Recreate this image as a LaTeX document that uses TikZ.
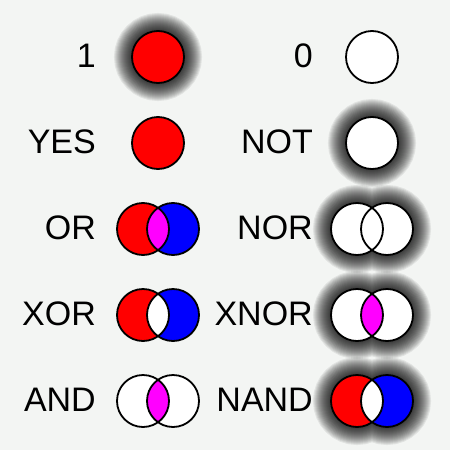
\documentclass[tikz,border=0pt]{standalone}
\usepackage{fontspec}
\setmainfont{Liberation Sans}

\definecolor{paper}{RGB}{243,245,243}
\definecolor{lred}{RGB}{255,0,0}
\definecolor{lblue}{RGB}{0,0,255}
\definecolor{lmag}{RGB}{255,0,255}

% soft dark halo round a path
\newcommand\halo[1]{%
  \foreach \k in {1,...,18}{\draw[black, opacity=0.07, line width=2*\k pt] #1;}}
% single lamp: x, y, fill
\newcommand\lamp[3]{\filldraw[ring, fill=#3] (#1,#2) circle (26);}
% two lamps: x, y, left, right, middle
\newcommand\lamps[5]{%
  \begin{scope}[shift={(#1,#2)}]
    \fill[#3] (-15,0) circle (26);
    \fill[#4] (15,0) circle (26);
    \begin{scope}
      \clip (-15,0) circle (26);
      \fill[#5] (15,0) circle (26);
    \end{scope}
    \draw[ring] (-15,0) circle (26) (15,0) circle (26);
  \end{scope}}

\begin{document}
\begin{tikzpicture}[x=1pt,y=-1pt]

\tikzset{
  lbl/.style  = {font=\fontsize{34}{40}\selectfont, anchor=base east, inner sep=0pt},
  ring/.style = {draw=black, line width=1.8pt},
}

\fill[paper] (0,0) rectangle (450,450);
\useasboundingbox (0,0) rectangle (450,450);

% left column
\node[lbl] (one) at (96,67) {1};
\halo{(158,57) circle (26)}
\lamp{158}{57}{lred}
\node[lbl] (yes) at (96,153) {YES};
\lamp{158}{143}{lred}
\node[lbl] (or) at (96,239) {OR};
\lamps{158}{229}{lred}{lblue}{lmag}
\node[lbl] (xor) at (96,325) {XOR};
\lamps{158}{315}{lred}{lblue}{white}
\node[lbl] (and) at (96,411) {AND};
\lamps{158}{401}{white}{white}{lmag}

% right column
\node[lbl] (zero) at (313,67) {0};
\lamp{372}{57}{white}
\node[lbl] (not) at (313,153) {NOT};
\halo{(372,143) circle (26)}
\lamp{372}{143}{white}
\node[lbl] (nor) at (313,239) {NOR};
\halo{(357,229) circle (26) (387,229) circle (26)}
\lamps{372}{229}{white}{white}{white}
\node[lbl] (xnor) at (313,325) {XNOR};
\halo{(357,315) circle (26) (387,315) circle (26)}
\lamps{372}{315}{white}{white}{lmag}
\node[lbl] (nand) at (313,411) {NAND};
\halo{(357,401) circle (26) (387,401) circle (26)}
\lamps{372}{401}{lred}{lblue}{white}

\end{tikzpicture}
\end{document}
